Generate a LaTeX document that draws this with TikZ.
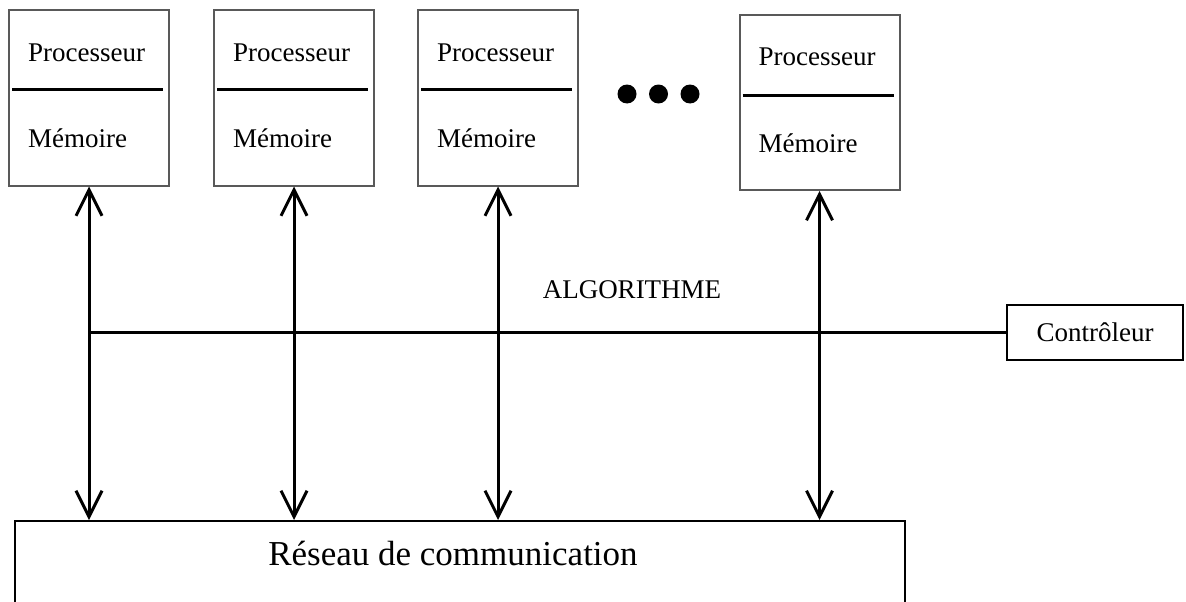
\documentclass[tikz,border=0pt]{standalone}
\usepackage{fontspec}
\setmainfont{Liberation Serif}
\usetikzlibrary{arrows.meta,positioning,calc}

\begin{document}
\begin{tikzpicture}[x=1pt, y=-1pt, >={Straight Barb[length=26pt,width=26pt]}]
\tikzstyle{pe}=[draw=black!65, line width=2pt, minimum width=160pt, minimum height=175pt, inner sep=0pt]
\tikzstyle{lbl}=[font=\fontsize{27}{30}\selectfont, inner sep=0pt, anchor=base west]
\tikzstyle{sep}=[line width=3pt]
\tikzstyle{link}=[<->, line width=3pt]
\tikzstyle{dot}=[circle, fill, minimum size=19pt, inner sep=0pt]
\useasboundingbox (0,0) rectangle (1186,602);
\clip (0,0) rectangle (1186,602);
% processing elements
\node[pe] (p1) at (89,98) {};
\node[pe, right=43pt of p1] (p2) {};
\node[pe, right=42pt of p2] (p3) {};
\node[pe] (p4) at (819.5,102.5) {};
\node[lbl] (p1a) at ([xshift=20pt,yshift=-52pt]p1.north west) {Processeur};
\node[lbl] (p1b) at ([xshift=20pt,yshift=-138pt]p1.north west) {Mémoire};
\draw[sep] ([xshift=4pt,yshift=-80pt]p1.north west) -- ([xshift=-7pt,yshift=-80pt]p1.north east);
\node[lbl] (p2a) at ([xshift=20pt,yshift=-52pt]p2.north west) {Processeur};
\node[lbl] (p2b) at ([xshift=20pt,yshift=-138pt]p2.north west) {Mémoire};
\draw[sep] ([xshift=4pt,yshift=-80pt]p2.north west) -- ([xshift=-7pt,yshift=-80pt]p2.north east);
\node[lbl] (p3a) at ([xshift=20pt,yshift=-52pt]p3.north west) {Processeur};
\node[lbl] (p3b) at ([xshift=20pt,yshift=-138pt]p3.north west) {Mémoire};
\draw[sep] ([xshift=4pt,yshift=-80pt]p3.north west) -- ([xshift=-7pt,yshift=-80pt]p3.north east);
\node[lbl] (p4a) at ([xshift=20pt,yshift=-52pt]p4.north west) {Processeur};
\node[lbl] (p4b) at ([xshift=20pt,yshift=-138pt]p4.north west) {Mémoire};
\draw[sep] ([xshift=4pt,yshift=-81pt]p4.north west) -- ([xshift=-7pt,yshift=-81pt]p4.north east);
\node[dot] (d1) at (627,94) {};
\node[dot] (d2) at (658.5,94) {};
\node[dot] (d3) at (690,94) {};
% network and controller
\node[draw, line width=2pt, minimum width=890pt, minimum height=120pt, inner sep=0pt] (net) at (460,581) {};
\node[font=\fontsize{35}{40}\selectfont, inner sep=0pt, anchor=base] (nett) at ([xshift=-7pt,yshift=-45pt]net.north) {Réseau de communication};
\node[draw, line width=2pt, minimum width=176pt, minimum height=55pt, font=\fontsize{27}{30}\selectfont] (ctrl) at (1095,332.5) {Contrôleur};
\node[font=\fontsize{27}{30}\selectfont, inner sep=0pt, anchor=base] (algo) at (632,298) {ALGORITHME};
\coordinate (bus) at (p1 |- ctrl);
\draw[line width=2.5pt] (bus) -- (ctrl);
\draw[link] (p1) -- (p1 |- net.north);
\draw[link] (p2) -- (p2 |- net.north);
\draw[link] (p3) -- (p3 |- net.north);
\draw[link] (p4) -- (p4 |- net.north);
\end{tikzpicture}
\end{document}
